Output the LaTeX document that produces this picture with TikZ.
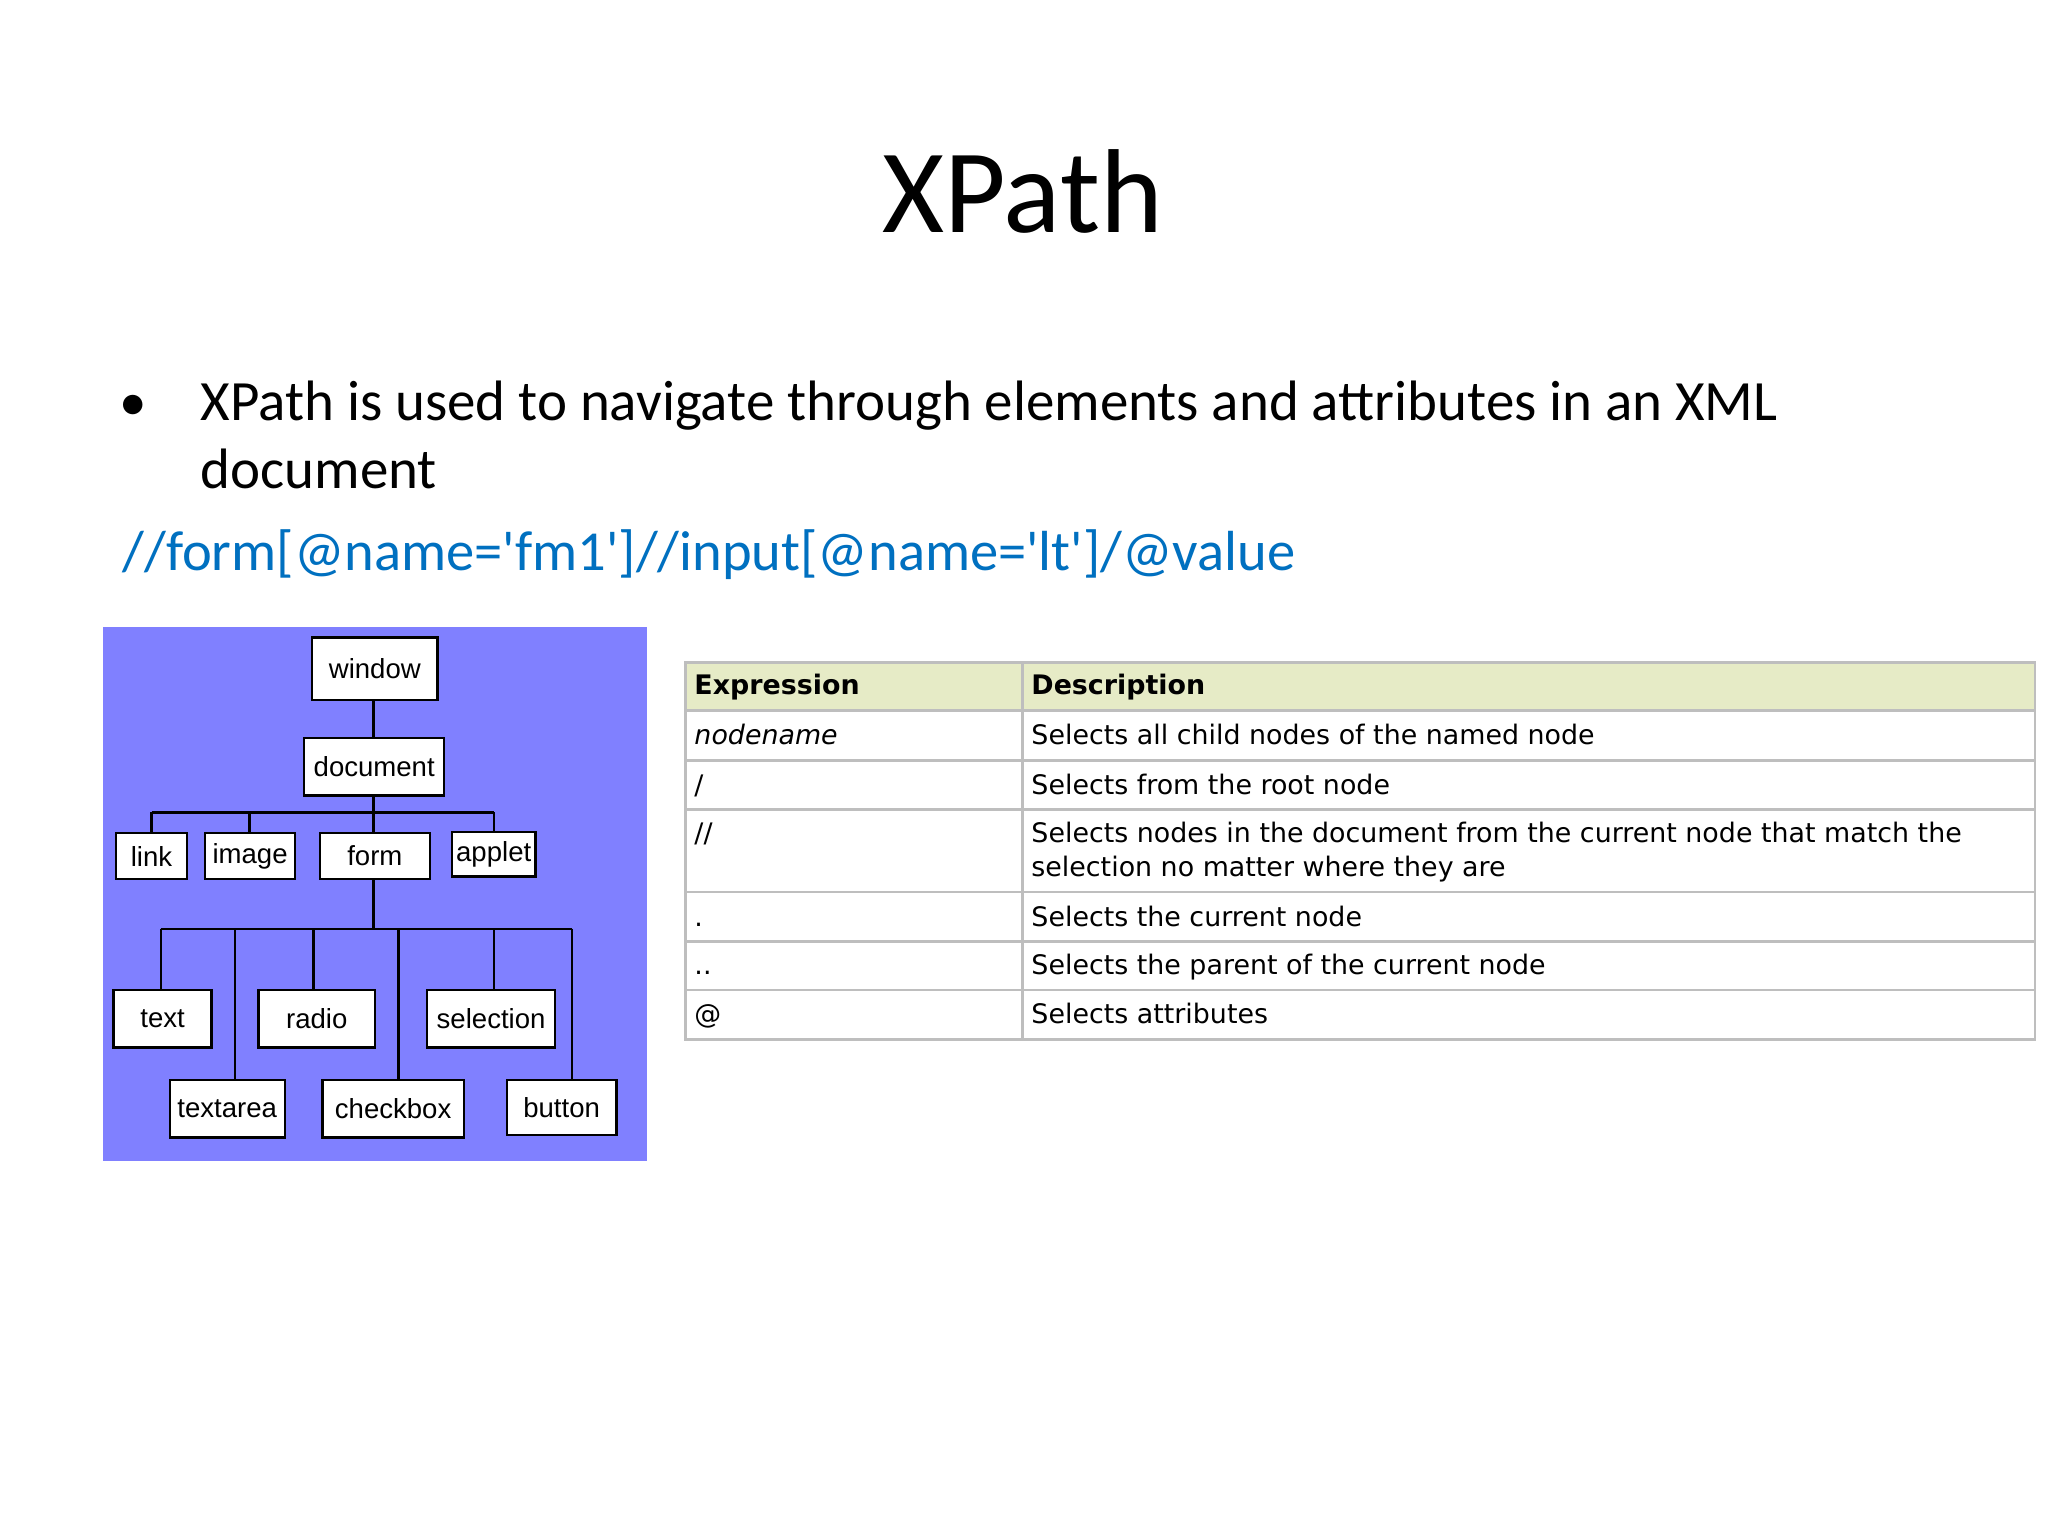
\documentclass[tikz,border=0pt]{standalone}
\usepackage{fontspec}
\setmainfont{Carlito}
\newfontfamily\bluefont[Ligatures=TeXOff]{Carlito}
\newfontfamily\treefont{Liberation Sans}
\newfontfamily\tabfont{DejaVu Sans}
\definecolor{bluebg}{HTML}{8080FF}
\definecolor{linkblue}{HTML}{0070C0}
\definecolor{hdr}{HTML}{E6EBC6}
\definecolor{grid}{HTML}{BEBEBE}
\begin{document}
\begin{tikzpicture}[x=0.01cm,y=-0.01cm,
  tbox/.style={draw=black,fill=white,line width=0.5pt,inner sep=0pt,font=\treefont\fontsize{6}{7}\selectfont},
  tl/.style={line width=0.5pt},
  cell/.style={anchor=base west,inner sep=0pt,font=\tabfont\fontsize{5.85}{7.5}\selectfont}]
\useasboundingbox (0,0) rectangle (1568,1176);
\fill[white] (0,0) rectangle (1568,1176);
\node[anchor=base,font=\fontsize{26}{30}\selectfont] (title) at (783,178) {XPath};
\node[anchor=base,font=\fontsize{12}{15}\selectfont] (bul) at (102,322) {•};
\node[anchor=base west,inner sep=0pt,font=\fontsize{12.4}{15}\selectfont] (l1) at (153,322) {XPath is used to navigate through elements and attributes in an XML};
\node[anchor=base west,inner sep=0pt,font=\fontsize{12.4}{15}\selectfont] (l2) at (153,374) {document};
\node[anchor=base west,inner sep=0pt,text=linkblue,font=\bluefont\fontsize{12.3}{15}\selectfont] (xp) at (93,437) {//form[@name='fm1']//input[@name='lt']/@value};
% tree
\fill[bluebg] (79,480) rectangle (495,889);
\coordinate (b1l) at (116,622); \coordinate (b1r) at (378,622);
\coordinate (b2l) at (123,711); \coordinate (b2r) at (438,711);
\draw[tl] (286,536) -- (286,565);
\draw[tl] (286,609) -- (286,622);
\draw[tl] (b1l) -- (b1r);
\foreach \x in {116,191,286,378} \draw[tl] (\x,622) -- (\x,640);
\draw[tl] (286,673) -- (286,711);
\draw[tl] (b2l) -- (b2r);
\foreach \x in {123,240,378} \draw[tl] (\x,711) -- (\x,758);
\foreach \x in {180,305,438} \draw[tl] (\x,711) -- (\x,827);
\node[tbox,minimum width=0.96cm,minimum height=0.48cm] (window) at (287,512) {window};
\node[tbox,minimum width=1.07cm,minimum height=0.44cm] (document) at (286.5,587) {document};
\node[tbox,minimum width=0.54cm,minimum height=0.35cm] (link) at (116,655.5) {link};
\node[tbox,minimum width=0.69cm,minimum height=0.35cm] (image) at (191.5,655.5) {image};
\node[tbox,minimum width=0.84cm,minimum height=0.35cm] (form) at (287,655.5) {form};
\node[tbox,minimum width=0.64cm,minimum height=0.34cm] (applet) at (378,654) {applet};
\node[tbox,minimum width=0.75cm,minimum height=0.44cm] (text) at (124.5,780) {text};
\node[tbox,minimum width=0.89cm,minimum height=0.44cm] (radio) at (242.5,780) {radio};
\node[tbox,minimum width=0.98cm,minimum height=0.44cm] (selection) at (376,780) {selection};
\node[tbox,minimum width=0.88cm,minimum height=0.44cm] (textarea) at (174,849) {textarea};
\node[tbox,minimum width=1.08cm,minimum height=0.44cm] (checkbox) at (301,849) {checkbox};
\node[tbox,minimum width=0.84cm,minimum height=0.42cm] (button) at (430,848) {button};
% table
\fill[hdr] (525,507) rectangle (1558,544);
\draw[grid,line width=0.6pt] (525,507) rectangle (1558,796);
\foreach \y in {544,582,620,683,721,758} \draw[grid,line width=0.6pt] (525,\y) -- (1558,\y);
\draw[grid,line width=0.6pt] (783,507) -- (783,796);
\node[cell,font=\tabfont\bfseries\fontsize{5.85}{7.5}\selectfont] (h1) at (531,532) {Expression};
\node[cell,font=\tabfont\bfseries\fontsize{5.85}{7.5}\selectfont] (h2) at (789,532) {Description};
\node[cell,font=\tabfont\itshape\fontsize{5.85}{7.5}\selectfont] (e1) at (531,570) {nodename};
\node[cell] (d1) at (789,570) {Selects all child nodes of the named node};
\node[cell] (e2) at (531,608) {/};
\node[cell] (d2) at (789,608) {Selects from the root node};
\node[cell] (e3) at (531,645) {//};
\node[cell] (d3) at (789,645) {Selects nodes in the document from the current node that match the};
\node[cell] (d3b) at (789,671) {selection no matter where they are};
\node[cell] (e4) at (531,709) {.};
\node[cell] (d4) at (789,709) {Selects the current node};
\node[cell] (e5) at (531,746) {..};
\node[cell] (d5) at (789,746) {Selects the parent of the current node};
\node[cell] (e6) at (531,784) {@};
\node[cell] (d6) at (789,784) {Selects attributes};
\end{tikzpicture}
\end{document}
